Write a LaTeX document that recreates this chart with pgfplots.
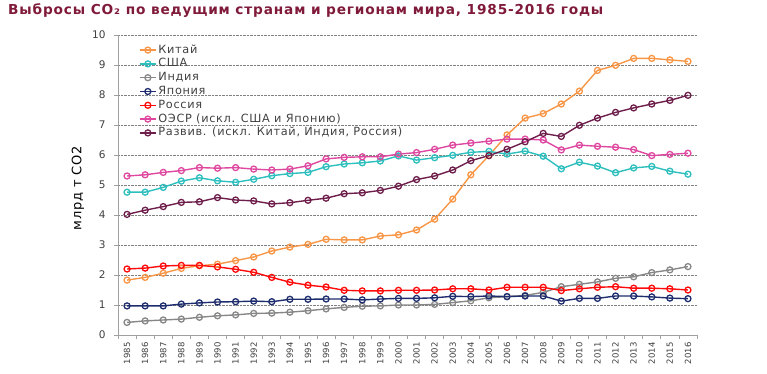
\documentclass[border=0pt]{standalone}
\usepackage{pgfplots}
\pgfplotsset{compat=1.18}
\usepackage{pgfplotstable}
\usepackage{fontspec}
\setmainfont{DejaVu Sans}
\newfontfamily\spfont[LetterSpace=6]{DejaVu Sans}
\definecolor{cChina}{RGB}{247,150,70}
\definecolor{cUS}{RGB}{45,190,190}
\definecolor{cIndia}{RGB}{135,135,135}
\definecolor{cJapan}{RGB}{30,45,110}
\definecolor{cRussia}{RGB}{255,10,10}
\definecolor{cOECD}{RGB}{222,72,160}
\definecolor{cDev}{RGB}{110,30,75}
\definecolor{cTitle}{RGB}{128,26,58}
\definecolor{cText}{RGB}{64,64,64}
\definecolor{cAxis}{RGB}{160,160,160}
\pgfplotstableread{
Year China US India Japan Russia OECD Dev
1985 1.83 4.76 0.42 0.97 2.20 5.30 4.02
1986 1.92 4.76 0.47 0.97 2.23 5.34 4.16
1987 2.06 4.92 0.50 0.97 2.30 5.42 4.28
1988 2.22 5.13 0.53 1.03 2.32 5.48 4.42
1989 2.31 5.24 0.59 1.07 2.32 5.58 4.44
1990 2.36 5.14 0.64 1.10 2.27 5.56 4.58
1991 2.48 5.09 0.67 1.11 2.19 5.58 4.50
1992 2.60 5.19 0.72 1.13 2.09 5.53 4.47
1993 2.80 5.31 0.73 1.11 1.92 5.50 4.37
1994 2.93 5.38 0.76 1.19 1.76 5.53 4.41
1995 3.02 5.42 0.81 1.19 1.66 5.64 4.49
1996 3.19 5.61 0.87 1.20 1.60 5.87 4.56
1997 3.17 5.70 0.92 1.20 1.49 5.92 4.71
1998 3.17 5.74 0.96 1.17 1.47 5.94 4.74
1999 3.30 5.80 0.97 1.20 1.47 5.94 4.82
2000 3.34 5.97 1.00 1.22 1.49 6.03 4.96
2001 3.50 5.83 1.00 1.22 1.49 6.08 5.18
2002 3.86 5.91 1.02 1.24 1.50 6.19 5.30
2003 4.53 5.99 1.08 1.29 1.54 6.33 5.50
2004 5.34 6.09 1.14 1.28 1.54 6.40 5.81
2005 5.98 6.12 1.24 1.30 1.50 6.46 5.98
2006 6.67 6.03 1.28 1.28 1.59 6.53 6.19
2007 7.23 6.13 1.32 1.30 1.59 6.53 6.44
2008 7.38 5.96 1.42 1.30 1.59 6.50 6.72
2009 7.70 5.54 1.61 1.13 1.48 6.17 6.62
2010 8.13 5.76 1.69 1.22 1.54 6.33 6.99
2011 8.82 5.63 1.77 1.22 1.59 6.29 7.23
2012 8.99 5.41 1.89 1.30 1.61 6.26 7.42
2013 9.22 5.57 1.94 1.30 1.56 6.18 7.57
2014 9.22 5.62 2.08 1.27 1.56 5.98 7.70
2015 9.17 5.46 2.17 1.23 1.54 6.02 7.82
2016 9.12 5.36 2.28 1.21 1.50 6.06 7.99
}\datatable
\begin{document}
\begin{tikzpicture}[x=1pt,y=1pt]
\useasboundingbox (0,0) rectangle (767,374);
\node[anchor=base west, inner sep=0pt, font=\spfont\bfseries\fontsize{13.7}{16}\selectfont, text=cTitle] at (8,359) {Выбросы CO₂ по ведущим странам и регионам мира, 1985-2016 годы};
\node[rotate=90, inner sep=0pt, font=\spfont\fontsize{13}{15}\selectfont, text=black] at (78,186) {млрд т CO2};
\begin{axis}[
  at={(118pt,39pt)}, anchor=south west,
  scale only axis, width=579pt, height=300pt,
  xmin=1984.5, xmax=2016.5, ymin=0, ymax=10,
  axis x line*=bottom, axis y line*=left,
  axis line style={cAxis, line width=0.8pt, -},
  xtick={1985,...,2016},
  minor xtick={1984.5,1985.5,...,2016.5},
  major x tick style={draw=none},
  minor x tick style={cAxis, line width=0.8pt},
  minor tick length=4pt,
  x tick label style={rotate=90, anchor=east, font=\fontsize{8.5}{10}\selectfont, text=cText, /pgf/number format/1000 sep={}},
  xticklabel={\pgfmathprintnumber[1000 sep={},assume math mode=true]{\tick}},
  ytick={0,1,...,10},
  y tick style={cAxis, line width=0.8pt},
  major tick length=4pt,
  tick align=outside,
  y tick label style={font=\fontsize{10.5}{12}\selectfont, text=cText, xshift=-5pt},
  /pgf/number format/assume math mode=true,
  ymajorgrids,
  major grid style={densely dotted, gray, line width=0.7pt},
  every axis plot/.append style={line width=1.4pt, mark=o, mark size=3pt, mark options={fill=white, line width=1.3pt}},
  legend style={at={(0,1)}, anchor=north west, xshift=18pt, yshift=-6pt, draw=none, fill=none,
    font=\spfont\fontsize{11.3}{12}\selectfont, text=cText,
    nodes={inner sep=1.9pt, text height=8pt, text depth=2pt}},
  legend cell align=left,
  legend image code/.code={\draw[mark repeat=2,mark phase=2] plot coordinates {(0cm,0cm)(0.28cm,0cm)(0.56cm,0cm)};},
]
\addplot[cChina] table[x=Year,y=China]{\datatable};
\addlegendentry{Китай}
\addplot[cUS] table[x=Year,y=US]{\datatable};
\addlegendentry{США}
\addplot[cIndia] table[x=Year,y=India]{\datatable};
\addlegendentry{Индия}
\addplot[cJapan] table[x=Year,y=Japan]{\datatable};
\addlegendentry{Япония}
\addplot[cRussia] table[x=Year,y=Russia]{\datatable};
\addlegendentry{Россия}
\addplot[cOECD] table[x=Year,y=OECD]{\datatable};
\addlegendentry{ОЭСР (искл. США и Японию)}
\addplot[cDev] table[x=Year,y=Dev]{\datatable};
\addlegendentry{Развив. (искл. Китай, Индия, Россия)}
\end{axis}
\end{tikzpicture}
\end{document}
